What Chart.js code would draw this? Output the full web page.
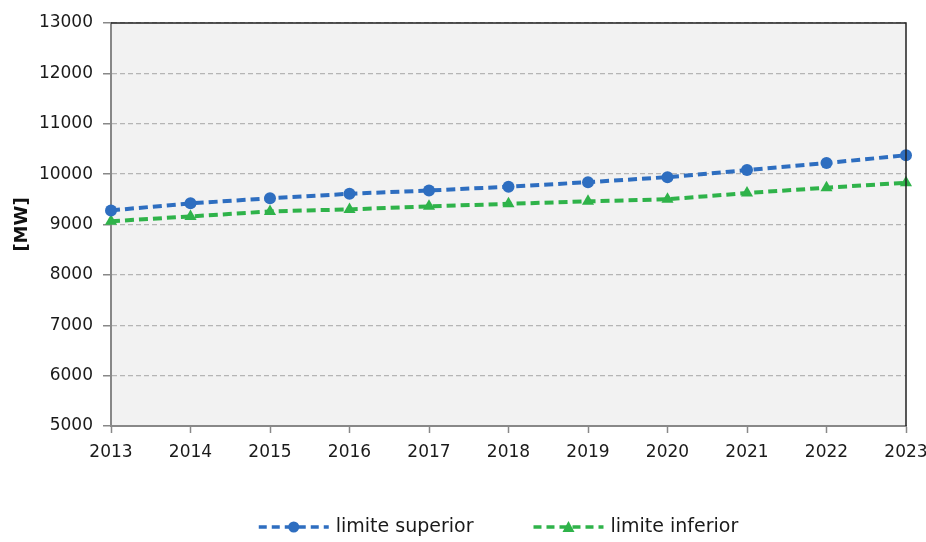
<!DOCTYPE html>
<html>
<head>
<meta charset="utf-8">
<script src="https://cdn.jsdelivr.net/npm/chart.js@4/dist/chart.umd.min.js"></script>
<style>
html,body{margin:0;padding:0;background:#fff;}
#wrap{width:926px;height:542px;position:relative;}
</style>
</head>
<body>
<div id="wrap"><canvas id="c" width="926" height="542"></canvas></div>
<script>
const years = ['2013','2014','2015','2016','2017','2018','2019','2020','2021','2022','2023'];
const limiteSuperior = [9280, 9420, 9520, 9610, 9675, 9750, 9840, 9940, 10080, 10220, 10375];
const limiteInferior = [9065, 9160, 9260, 9300, 9360, 9410, 9460, 9500, 9625, 9730, 9830];
const yTicks = [5000, 6000, 7000, 8000, 9000, 10000, 11000, 12000, 13000];

const BLUE = '#2e6ec0';
const GREEN = '#2fb34a';
const FONT = 'DejaVu Sans';

function drawMarker(g, style, cx, cy, color) {
  g.fillStyle = color;
  g.beginPath();
  if (style === 'circle') {
    g.arc(cx, cy, 5.5, 0, Math.PI * 2);
  } else {
    g.moveTo(cx, cy - 6); g.lineTo(cx + 6, cy + 5); g.lineTo(cx - 6, cy + 5); g.closePath();
  }
  g.fill();
}

const plotBg = {
  id: 'plotBg',
  beforeDraw(chart) {
    const {ctx, chartArea: a} = chart;
    ctx.save();
    ctx.fillStyle = '#f2f2f2';
    ctx.fillRect(a.left, a.top, a.right - a.left, a.bottom - a.top);
    ctx.restore();
  },
  afterDraw(chart) {
    const {ctx, chartArea: a} = chart;
    ctx.save();
    ctx.strokeStyle = '#222';
    ctx.lineWidth = 1.5;
    ctx.beginPath();
    ctx.moveTo(a.left, a.top); ctx.lineTo(a.right, a.top); ctx.lineTo(a.right, a.bottom);
    ctx.stroke();

    // legend
    const iconW = 70, gapIcon = 7, gapItem = 60;
    ctx.font = '19px "' + FONT + '"';
    ctx.textBaseline = 'middle';
    const items = chart.data.datasets.map(ds => ({ds, tw: ctx.measureText(ds.label).width}));
    let total = 0;
    items.forEach((it, i) => { total += iconW + gapIcon + it.tw + (i ? gapItem : 0); });
    let x = (a.left + a.right) / 2 - 10 - total / 2;
    const y = 527;
    items.forEach((it, i) => {
      if (i) x += gapItem;
      const c = it.ds.borderColor;
      ctx.strokeStyle = c; ctx.lineWidth = 3.5; ctx.setLineDash([8, 5]);
      ctx.beginPath(); ctx.moveTo(x, y); ctx.lineTo(x + iconW, y); ctx.stroke();
      ctx.setLineDash([]);
      drawMarker(ctx, it.ds.pointStyle, x + iconW / 2, y, c);
      x += iconW + gapIcon;
      ctx.fillStyle = '#1a1a1a';
      ctx.fillText(it.ds.label, x, y);
      x += it.tw;
    });
    ctx.restore();
  }
};

new Chart(document.getElementById('c'), {
  type: 'line',
  data: {
    labels: years,
    datasets: [
      {
        label: 'limite superior',
        data: limiteSuperior,
        borderColor: BLUE, backgroundColor: BLUE,
        borderWidth: 4, borderDash: [9, 5],
        pointStyle: 'circle', pointRadius: 6, pointHoverRadius: 6,
        pointBackgroundColor: BLUE, pointBorderColor: BLUE, pointBorderWidth: 0,
        tension: 0
      },
      {
        label: 'limite inferior',
        data: limiteInferior,
        borderColor: GREEN, backgroundColor: GREEN,
        borderWidth: 4, borderDash: [9, 5],
        pointStyle: 'triangle', pointRadius: 7, pointHoverRadius: 7,
        pointBackgroundColor: GREEN, pointBorderColor: GREEN, pointBorderWidth: 0,
        tension: 0
      }
    ]
  },
  options: {
    responsive: false,
    animation: false,
    layout: {padding: {top: 23, right: 20, left: 12, bottom: 0}},
    plugins: {
      legend: {display: false},
      tooltip: {enabled: false}
    },
    scales: {
      x: {
        type: 'category',
        offset: false,
        grid: {
          drawOnChartArea: false, drawTicks: true, tickLength: 7,
          tickColor: '#888', tickWidth: 1.5
        },
        border: {color: '#888', width: 2},
        ticks: {color: '#1a1a1a', font: {family: FONT, size: 17}, padding: 9, maxRotation: 0, autoSkip: false},
        afterFit(s) { s.height = 116; s.paddingRight = 0; s.paddingLeft = 0; }
      },
      y: {
        min: 5000, max: 13000,
        afterBuildTicks(s) { s.ticks = yTicks.map(v => ({value: v})); },
        grid: {
          color: '#b5b5b5', lineWidth: 1.3,
          tickColor: '#888', tickLength: 8, tickWidth: 1.5, tickBorderDash: [1, 0]
        },
        border: {color: '#888', width: 2, dash: [5, 3]},
        ticks: {color: '#1a1a1a', font: {family: FONT, size: 17}, padding: 10, callback: v => String(v)},
        title: {display: true, text: '[MW]', color: '#111', font: {family: FONT, size: 18, weight: 'bold'}, padding: 0},
        afterFit(s) { s.width = 99; }
      }
    }
  },
  plugins: [plotBg]
});
</script>
</body>
</html>
